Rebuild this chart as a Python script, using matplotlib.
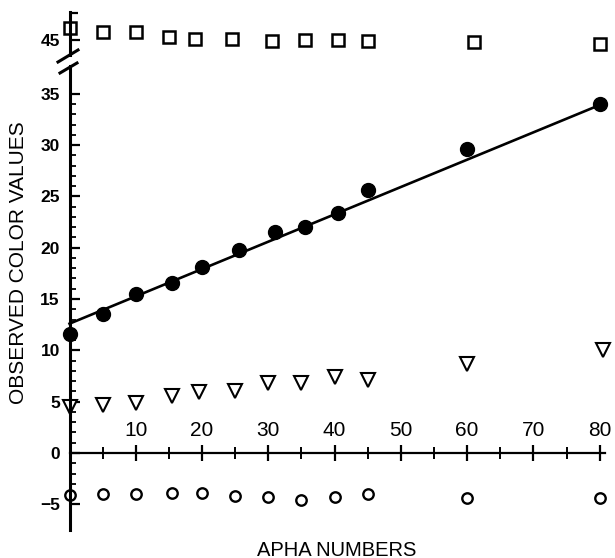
import matplotlib
matplotlib.use('Agg')
import matplotlib.pyplot as plt
from matplotlib.ticker import FixedLocator, NullFormatter
from matplotlib.lines import Line2D

plt.rcParams['font.family'] = ['Liberation Sans', 'DejaVu Sans']

# filled circles + fitted line
dot_x = [0, 5, 10, 15.5, 20, 25.5, 31, 35.5, 40.5, 45, 60, 80]
dot_y = [11.6, 13.5, 15.5, 16.6, 18.1, 19.8, 21.5, 22.0, 23.4, 25.6, 29.6, 34.0]
fit_x = [0, 80]
fit_y = [12.6, 33.9]

# open squares (upper, broken segment)
sq_x = [0, 5, 10, 15, 19, 24.5, 30.5, 35.5, 40.5, 45, 61, 80]
sq_y = [46.1, 45.7, 45.7, 45.3, 45.1, 45.1, 44.9, 45.0, 45.0, 44.9, 44.8, 44.6]

# open triangles
tri_x = [0, 5, 10, 15.5, 19.5, 25, 30, 35, 40, 45, 60, 80.5]
tri_y = [4.5, 4.7, 4.9, 5.6, 5.9, 6.0, 6.8, 6.8, 7.4, 7.1, 8.7, 10.0]

# open circles
oc_x = [0, 5, 10, 15.5, 20, 25, 30, 35, 40, 45, 60, 80]
oc_y = [-4.1, -4.0, -4.0, -3.9, -3.9, -4.2, -4.3, -4.6, -4.3, -4.0, -4.4, -4.4]

x_major = [10, 20, 30, 40, 50, 60, 70, 80]
x_minor = [5, 15, 25, 35, 45, 55, 65, 75]
y_major = [-5, 0, 5, 10, 15, 20, 25, 30, 35]
y_minor = list(range(-5, 36))

W, H = 615, 558
fig = plt.figure(figsize=(W / 100, H / 100), dpi=100)

x0, x1 = 69.5, 605
lo = fig.add_axes([x0 / W, 1 - 530 / H, (x1 - x0) / W, (530 - 66) / H])
hi = fig.add_axes([x0 / W, 1 - 55 / H, (x1 - x0) / W, (55 - 12) / H])

# lower part
lo.set_xlim(0, 80.8)
lo.set_ylim(-7.5, 37.7)
lo.plot(fit_x, fit_y, color='black', lw=1.9, clip_on=False)
lo.plot(dot_x, dot_y, 'o', color='black', ms=10, clip_on=False)
lo.plot(tri_x, tri_y, 'v', mfc='white', mec='black', ms=10, mew=1.5, clip_on=False)
lo.plot(oc_x, oc_y, 'o', mfc='white', mec='black', ms=7.5, mew=1.7, clip_on=False)

for s in ['top', 'right']:
    lo.spines[s].set_visible(False)
lo.spines['bottom'].set_position(('data', 0))
lo.spines['bottom'].set_linewidth(1.6)
lo.spines['left'].set_linewidth(2.2)

lo.xaxis.set_major_locator(FixedLocator(x_major))
lo.xaxis.set_minor_locator(FixedLocator(x_minor))
lo.xaxis.set_minor_formatter(NullFormatter())
lo.tick_params(axis='x', which='major', direction='inout', length=12, width=1.6,
               labelsize=15, pad=-29)
lo.tick_params(axis='x', which='minor', direction='inout', length=8, width=1.4)

lo.yaxis.set_major_locator(FixedLocator(y_major))
lo.yaxis.set_minor_locator(FixedLocator(y_minor))
lo.yaxis.set_minor_formatter(NullFormatter())
lo.tick_params(axis='y', which='major', direction='in', length=7, width=1.6,
               labelsize=12.5, pad=7)
lo.tick_params(axis='y', which='minor', direction='in', length=4.5, width=1.3)
for t in lo.get_yticklabels():
    t.set_fontweight('bold')

# upper part
hi.set_xlim(0, 80.8)
hi.set_ylim(43.5, 47.7)
hi.plot(sq_x, sq_y, 's', mfc='white', mec='black', ms=8.5, mew=1.8, clip_on=False)
for s in ['top', 'right', 'bottom']:
    hi.spines[s].set_visible(False)
hi.spines['left'].set_linewidth(2.2)
hi.set_xticks([])
hi.yaxis.set_major_locator(FixedLocator([45]))
hi.yaxis.set_minor_locator(FixedLocator([47.65]))
hi.tick_params(axis='y', which='major', direction='in', length=7, width=1.6,
               labelsize=12.5, pad=7)
hi.tick_params(axis='y', which='minor', direction='in', length=6, width=1.6)
for t in hi.get_yticklabels():
    t.set_fontweight('bold')

# break marks
for (ax_, ay_), (bx_, by_) in [((58, 62), (78, 50)), ((60, 73), (77, 63))]:
    fig.add_artist(Line2D([ax_ / W, bx_ / W], [1 - ay_ / H, 1 - by_ / H],
                          color='black', lw=2.2, transform=fig.transFigure))

fig.text(337 / W, 1 - 550 / H, 'APHA NUMBERS', ha='center', va='center', fontsize=14.5)
fig.text(19 / W, 1 - 263 / H, 'OBSERVED COLOR VALUES', ha='center', va='center',
         rotation=90, fontsize=15)

fig.savefig('out.png', dpi=100)
